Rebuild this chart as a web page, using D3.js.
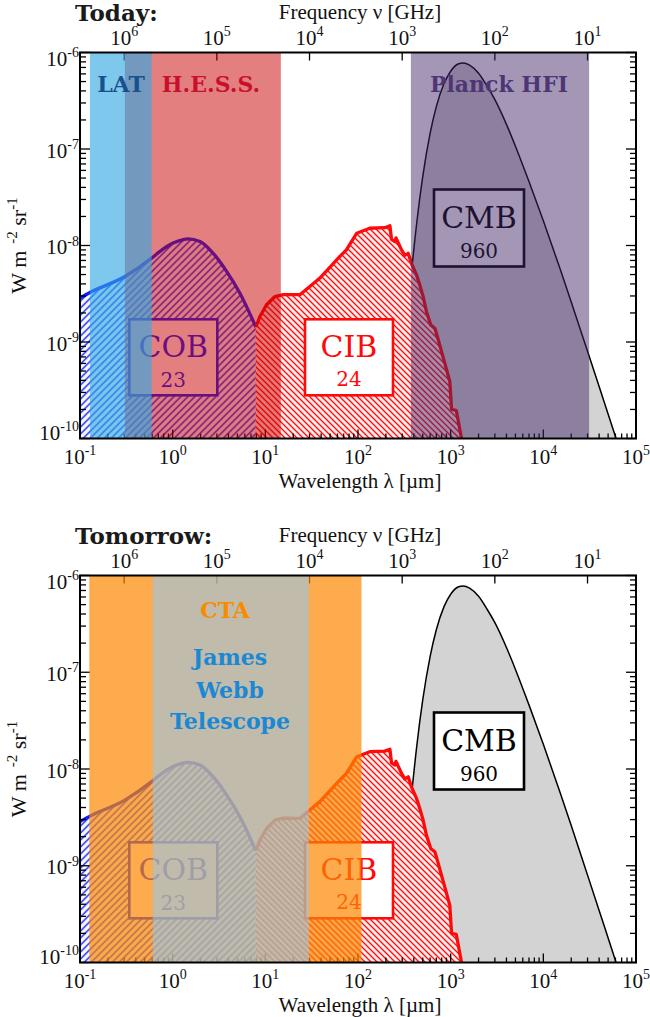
<!DOCTYPE html>
<html><head><meta charset="utf-8">
<script src="https://cdn.jsdelivr.net/npm/d3@7"></script>
<style>body{margin:0;background:#fff} svg{display:block}</style>
</head><body><svg id="c" width="650" height="1017"></svg>
<script>
// ---------------- data ----------------
const wavelengthTickExp = [-1, 0, 1, 2, 3, 4, 5];
const frequencyTickExp = [6, 5, 4, 3, 2, 1];
const fluxTickExp = [-10, -9, -8, -7, -6];

// Cosmic optical background (lambda in micron, nu I_nu in W m^-2 sr^-1)
const cobWavelength = [0.1, 0.128, 0.305, 0.593, 0.73, 1.01, 1.30, 1.45, 1.97, 2.74, 3.82, 5.32, 7.9];
const cobFlux = [2.87e-9, 3.26e-9, 4.77e-9, 7.4e-9, 8.7e-9, 1.06e-8, 1.15e-8, 1.17e-8, 1.10e-8, 8.3e-9, 5.4e-9, 3.2e-9, 1.43e-9];

// Cosmic infrared background
const cibWavelength = [7.9, 8.75, 10.3, 12.7, 15.6, 23.6, 31.6, 38.8, 63.8, 75, 97, 134, 195, 221, 230, 250, 257, 295, 320, 348, 378, 427, 464, 505, 548, 611, 676, 733, 865, 979, 1023, 1150, 1310];
const cibFlux = [1.43e-9, 1.84e-9, 2.43e-9, 2.96e-9, 3.1e-9, 3.09e-9, 3.9e-9, 4.6e-9, 7.7e-9, 9.0e-9, 1.34e-8, 1.51e-8, 1.53e-8, 1.6e-8, 1.16e-8, 1.1e-8, 1.2e-8, 9.0e-9, 7.9e-9, 8.3e-9, 6.5e-9, 5.0e-9, 3.9e-9, 2.95e-9, 2.06e-9, 1.5e-9, 1.39e-9, 1.06e-9, 6.0e-10, 3.9e-10, 2.0e-10, 1.95e-10, 1.0e-10];

// Cosmic microwave background
const cmbWavelength = [280, 300, 330, 378, 430, 500, 600, 700, 850, 1000, 1200, 1365, 1600, 2000, 2500, 3000, 4000, 5000, 7000, 1e4, 1.5e4, 2e4, 3e4, 4e4, 6e4, 7e4];
const cmbFlux = [1.1e-10, 3.5e-10, 1.2e-9, 5.3e-9, 1.7e-8, 5.2e-8, 1.45e-7, 2.75e-7, 4.8e-7, 6.4e-7, 7.6e-7, 7.8e-7, 7.4e-7, 6.1e-7, 4.4e-7, 3.25e-7, 1.8e-7, 1.07e-7, 4.6e-8, 1.8e-8, 5.9e-9, 2.6e-9, 8.0e-10, 3.45e-10, 1.05e-10, 6.6e-11];

const componentNames = ["COB", "CIB", "CMB"];
const componentIntensity = [23, 24, 960];

// instrument bands (micron)
const todayBandNames = ["H.E.S.S.", "LAT", "Planck HFI"];
const todayBandFrom = [0.305, 0.128, 372];
const todayBandTo = [14.7, 0.593, 31200];
const tomorrowBandNames = ["CTA", "James Webb Telescope"];
const tomorrowBandFrom = [0.126, 0.61];
const tomorrowBandTo = [109, 29.5];

// ---------------- styles ----------------
const C_UM_GHZ = 2.998e5;
const serif = "'Liberation Serif', 'Times New Roman', serif";
const dserif = "'DejaVu Serif', serif";
const bandStyle = {
  "H.E.S.S.": {fill: "rgb(200,0,0)", op: 0.5, text: "#c8102e"},
  "LAT": {fill: "rgb(52,169,225)", op: 0.64, text: "#19508f"},
  "Planck HFI": {fill: "rgb(62,37,100)", op: 0.477, text: "#4e3676"},
  "CTA": {fill: "rgb(252,136,0)", op: 0.7, text: "#f98b00"},
  "James Webb Telescope": {fill: "rgb(142,201,247)", op: 0.55, text: "#1a88d4"}
};
const compStyle = {
  COB: {stroke: "#0a1eff", hatch: "#0a1eff", spacing: 7, angle: 45},
  CIB: {stroke: "#ff0a0a", hatch: "#ff0a0a", spacing: 6, angle: -45},
  CMB: {stroke: "#000", fill: "#d3d3d3"}
};

const svg = d3.select("#c");
const defs = svg.append("defs");
function hatch(id, color, spacing, angle) {
  const s = spacing * Math.SQRT1_2;
  const p = defs.append("pattern").attr("id", id).attr("patternUnits", "userSpaceOnUse")
    .attr("width", s).attr("height", s).attr("patternTransform", `rotate(${angle})`);
  p.append("line").attr("x1", s / 2).attr("x2", s / 2).attr("y1", -1).attr("y2", s + 1)
    .attr("stroke", color).attr("stroke-width", 1.5);
}
hatch("hCOB", compStyle.COB.hatch, compStyle.COB.spacing, compStyle.COB.angle);
hatch("hCIB", compStyle.CIB.hatch, compStyle.CIB.spacing, compStyle.CIB.angle);

const L = 80, R = 636;

function powText(sel, exp) {
  sel.append("tspan").text("10");
  sel.append("tspan").attr("dy", -8.5).attr("font-size", 14).text(exp);
}

function drawPanel(cfg) {
  const top = cfg.top, bottom = cfg.bottom;
  const g = svg.append("g");
  const x = d3.scaleLog().domain([0.1, 1e5]).range([L, R]);
  const y = d3.scaleLog().domain([1e-10, 1e-6]).range([bottom, top]);
  const clipId = "clip" + cfg.id;
  defs.append("clipPath").attr("id", clipId).append("rect")
    .attr("x", L).attr("y", top).attr("width", R - L).attr("height", bottom - top);
  const plot = g.append("g").attr("clip-path", `url(#${clipId})`);

  const cmb = cmbWavelength.map((l, i) => [l, cmbFlux[i]]);
  const cob = cobWavelength.map((l, i) => [l, cobFlux[i]]);
  const cib = cibWavelength.map((l, i) => [l, cibFlux[i]]);

  const areaS = d3.area().x(d => x(d[0])).y0(y(1e-10)).y1(d => y(d[1])).curve(d3.curveMonotoneX);
  const lineS = d3.line().x(d => x(d[0])).y(d => y(d[1])).curve(d3.curveMonotoneX);
  const areaL = d3.area().x(d => x(d[0])).y0(y(1e-10)).y1(d => y(d[1]));
  const lineL = d3.line().x(d => x(d[0])).y(d => y(d[1]));

  // CMB
  plot.append("path").attr("d", areaS(cmb)).attr("fill", compStyle.CMB.fill);
  plot.append("path").attr("d", lineS(cmb)).attr("fill", "none").attr("stroke", compStyle.CMB.stroke).attr("stroke-width", 1.5);
  // COB
  plot.append("path").attr("d", areaS(cob)).attr("fill", "#fff");
  plot.append("path").attr("d", areaS(cob)).attr("fill", "url(#hCOB)");
  // CIB
  plot.append("path").attr("d", areaL(cib)).attr("fill", "#fff");
  plot.append("path").attr("d", areaL(cib)).attr("fill", "url(#hCIB)");
  plot.append("path").attr("d", lineS(cob)).attr("fill", "none").attr("stroke", compStyle.COB.stroke).attr("stroke-width", 3.3).attr("stroke-linejoin", "round");
  plot.append("path").attr("d", lineL(cib)).attr("fill", "none").attr("stroke", compStyle.CIB.stroke).attr("stroke-width", 3.3).attr("stroke-linejoin", "round");

  // component boxes (layout positions)
  const boxLayout = {
    COB: {cx: 173.3, top: 266.8, w: 88, h: 76, b1: 304, b2: 334, color: compStyle.COB.stroke},
    CIB: {cx: 349, top: 266.8, w: 88, h: 76, b1: 304, b2: 333, color: compStyle.CIB.stroke},
    CMB: {cx: 479, top: 137, w: 90, h: 77, b1: 175, b2: 205, color: "#000"}
  };
  componentNames.forEach((n, i) => {
    const b = boxLayout[n];
    plot.append("rect").attr("x", b.cx - b.w / 2).attr("y", top + b.top).attr("width", b.w).attr("height", b.h)
      .attr("fill", "#fff").attr("stroke", b.color).attr("stroke-width", 2.6);
    plot.append("text").attr("x", b.cx).attr("y", top + b.b1).attr("text-anchor", "middle")
      .attr("font-family", dserif).attr("font-size", 30).attr("fill", b.color).text(n);
    plot.append("text").attr("x", b.cx).attr("y", top + b.b2).attr("text-anchor", "middle")
      .attr("font-family", dserif).attr("font-size", 20).attr("fill", b.color).text(componentIntensity[i]);
  });

  // ticks (drawn beneath the instrument bands)
  const ticks = g.append("g").attr("stroke", "#000").attr("stroke-width", 1.3);
  wavelengthTickExp.forEach(e => {
    const v = Math.pow(10, e);
    ticks.append("line").attr("x1", x(v)).attr("x2", x(v)).attr("y1", bottom).attr("y2", bottom - 9);
    if (e < 5) for (let m = 2; m <= 9; m++) {
      const xx = x(m * v);
      ticks.append("line").attr("x1", xx).attr("x2", xx).attr("y1", bottom).attr("y2", bottom - 5);
    }
  });
  frequencyTickExp.forEach(e => {
    const xx = x(C_UM_GHZ / Math.pow(10, e));
    ticks.append("line").attr("x1", xx).attr("x2", xx).attr("y1", top).attr("y2", top + 8);
  });
  fluxTickExp.forEach(e => {
    const v = Math.pow(10, e);
    [[L, 1], [R, -1]].forEach(([x0, s]) => {
      ticks.append("line").attr("x1", x0).attr("x2", x0 + s * 10).attr("y1", y(v)).attr("y2", y(v));
      if (e < -6) for (let m = 2; m <= 9; m++) {
        ticks.append("line").attr("x1", x0).attr("x2", x0 + s * 6).attr("y1", y(m * v)).attr("y2", y(m * v));
      }
    });
  });

  // instrument bands
  cfg.bandNames.forEach((n, i) => {
    const st = bandStyle[n];
    g.append("rect").attr("x", x(cfg.bandFrom[i])).attr("width", x(cfg.bandTo[i]) - x(cfg.bandFrom[i]))
      .attr("y", top).attr("height", bottom - top).attr("fill", st.fill).attr("fill-opacity", st.op);
  });
  cfg.bandLabels.forEach(bl => {
    g.append("text").attr("x", bl.x).attr("y", top + bl.y).attr("text-anchor", "middle")
      .attr("font-family", dserif).attr("font-weight", "bold").attr("font-size", 22)
      .attr("fill", bandStyle[bl.band].text).text(bl.text);
  });

  // frame
  g.append("rect").attr("x", L).attr("y", top).attr("width", R - L).attr("height", bottom - top)
    .attr("fill", "none").attr("stroke", "#000").attr("stroke-width", 2);

  // tick labels
  const lab = g.append("g").attr("font-family", serif).attr("font-size", 21).attr("fill", "#111");
  wavelengthTickExp.forEach(e => {
    const t = lab.append("text").attr("x", x(Math.pow(10, e))).attr("y", bottom + 25).attr("text-anchor", "middle");
    powText(t, e);
  });
  frequencyTickExp.forEach(e => {
    const t = lab.append("text").attr("x", x(C_UM_GHZ / Math.pow(10, e))).attr("y", top - 8).attr("text-anchor", "middle");
    powText(t, e);
  });
  fluxTickExp.forEach(e => {
    const off = e === -6 ? 13 : (e === -10 ? 1 : 8.5);
    const t = lab.append("text").attr("x", 79).attr("y", y(Math.pow(10, e)) + off).attr("text-anchor", "end");
    powText(t, e);
  });

  // axis titles
  lab.append("text").attr("x", (L + R) / 2 + 2).attr("y", bottom + 49).attr("text-anchor", "middle").text("Wavelength λ [µm]");
  lab.append("text").attr("x", (L + R) / 2 + 2).attr("y", top - 33.5).attr("text-anchor", "middle").text("Frequency ν [GHz]");
  const yl = lab.append("text").attr("transform", `translate(26,${(top + bottom) / 2}) rotate(-90)`).attr("text-anchor", "middle").attr("font-size", 22);
  yl.append("tspan").text("W m");
  yl.append("tspan").attr("dx", 7).attr("dy", -9).attr("font-size", 15).text("-2");
  yl.append("tspan").attr("dy", 9).text(" sr");
  yl.append("tspan").attr("dy", -9).attr("font-size", 15).text("-1");

  svg.append("text").attr("x", 75).attr("y", top - 32).attr("font-family", dserif).attr("font-weight", "bold")
    .attr("font-size", 23).attr("fill", "#1a1a1a").text(cfg.title);
}

drawPanel({
  id: "a", top: 52.5, bottom: 438.5, title: "Today:",
  bandNames: todayBandNames, bandFrom: todayBandFrom, bandTo: todayBandTo,
  bandLabels: [
    {band: "LAT", text: "LAT", x: 121, y: 39},
    {band: "H.E.S.S.", text: "H.E.S.S.", x: 211, y: 39},
    {band: "Planck HFI", text: "Planck HFI", x: 499, y: 39}
  ]
});
drawPanel({
  id: "b", top: 575.5, bottom: 962.5, title: "Tomorrow:",
  bandNames: tomorrowBandNames, bandFrom: tomorrowBandFrom, bandTo: tomorrowBandTo,
  bandLabels: [
    {band: "CTA", text: "CTA", x: 225, y: 42.5},
    {band: "James Webb Telescope", text: "James", x: 230, y: 89},
    {band: "James Webb Telescope", text: "Webb", x: 230, y: 122},
    {band: "James Webb Telescope", text: "Telescope", x: 230, y: 153}
  ]
});
</script></body></html>
